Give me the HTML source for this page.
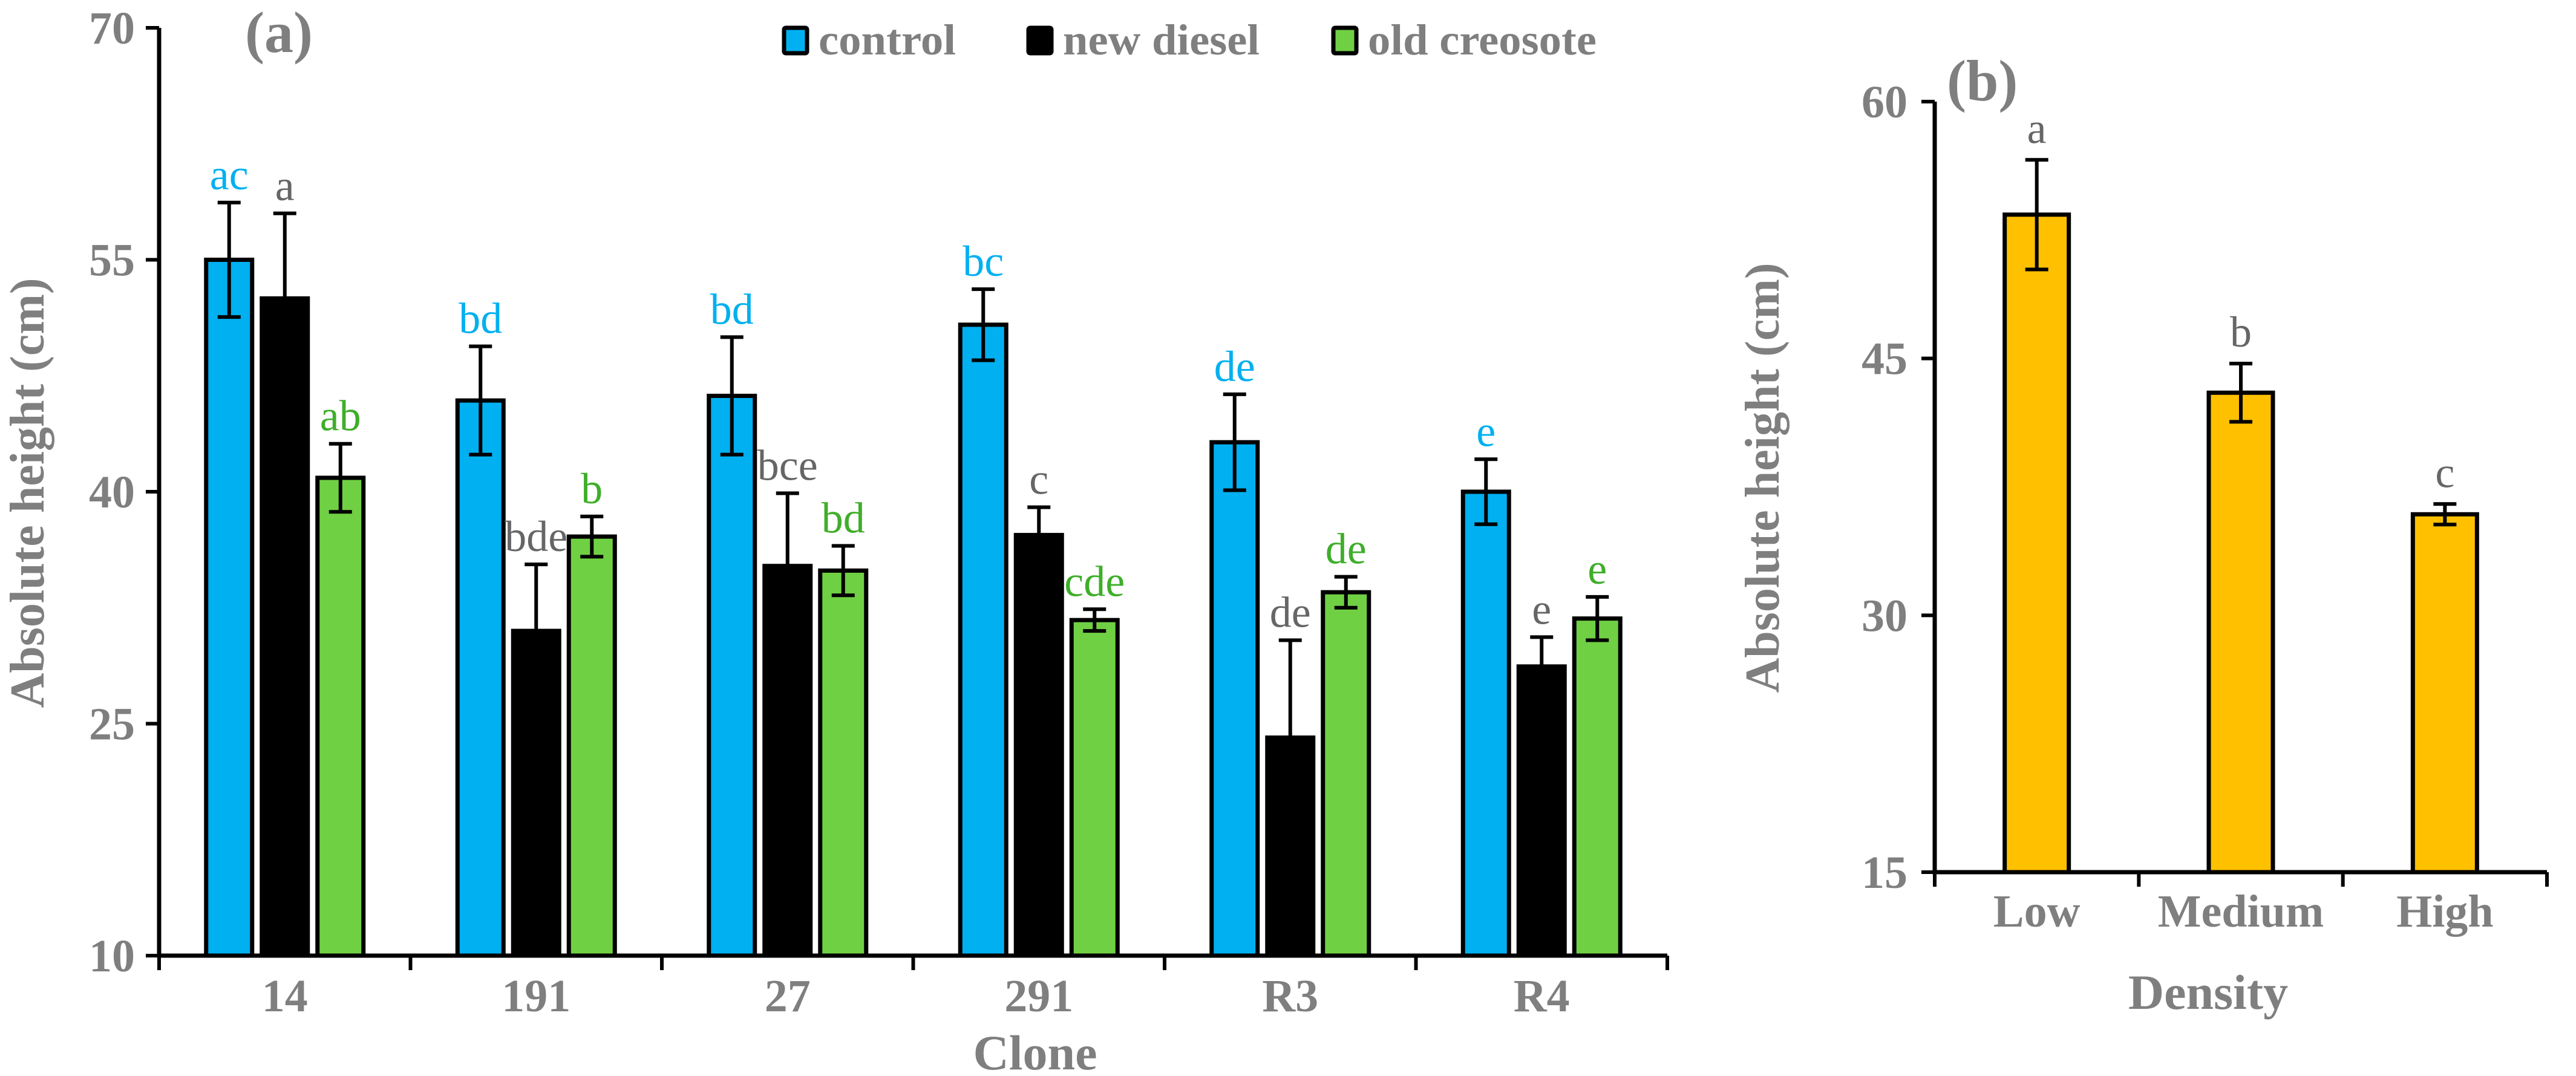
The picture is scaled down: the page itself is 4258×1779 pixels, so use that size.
<!DOCTYPE html>
<html><head><meta charset="utf-8"><style>
html,body{margin:0;padding:0;background:#fff;}
svg{display:block;}
text{font-family:"Liberation Serif",serif;}
</style></head><body>
<svg id="chart" width="4258" height="1779" viewBox="0 0 4258 1779" xmlns="http://www.w3.org/2000/svg"></svg>
<script>
const clones = ["14","191","27","291","R3","R4"];
const controlVals = [55.0, 45.9, 46.2, 50.8, 43.2, 40.0];
const controlErr = [3.7, 3.5, 3.8, 2.3, 3.1, 2.1];
const controlLetters = ["ac","bd","bd","bc","de","e"];
const dieselVals = [52.5, 31.0, 35.2, 37.2, 24.1, 28.7];
const dieselErr = [5.5, 4.3, 4.7, 1.8, 6.3, 1.9];
const dieselLetters = ["a","bde","bce","c","de","e"];
const creosoteVals = [40.9, 37.1, 34.9, 31.7, 33.5, 31.8];
const creosoteErr = [2.2, 1.3, 1.6, 0.7, 1.0, 1.4];
const creosoteLetters = ["ab","b","bd","cde","de","e"];
const leftTicks = [10, 25, 40, 55, 70];
const densities = ["Low","Medium","High"];
const densityVals = [53.4, 43.0, 35.9];
const densityErr = [3.2, 1.7, 0.6];
const densityLetters = ["a","b","c"];
const rightTicks = [15, 30, 45, 60];

const NS = "http://www.w3.org/2000/svg";
const svg = document.getElementById("chart");
function mk(tag, attrs, parent, txt){
  const e = document.createElementNS(NS, tag);
  for (const k in attrs) e.setAttribute(k, attrs[k]);
  if (txt !== undefined) e.textContent = txt;
  (parent || svg).appendChild(e);
  return e;
}
const GREY = "#7f7f7f";

// ---------- Left chart ----------
const L = {x0:263, x1:2756, yTop:46, yBot:1580, vmin:10, vmax:70};
const ly = v => L.yBot - (v - L.vmin) / (L.vmax - L.vmin) * (L.yBot - L.yTop);
const gw = (L.x1 - L.x0) / clones.length;
const gx = i => L.x0 + gw * (i + 0.5);

const gL = mk("g", {});



const series = [
  {name:"control", vals:controlVals, err:controlErr, letters:controlLetters, fill:"#00b0f0", lc:"#00b0f0", off:-92},
  {name:"new-diesel", vals:dieselVals, err:dieselErr, letters:dieselLetters, fill:"#000000", lc:"#666666", off:0},
  {name:"old-creosote", vals:creosoteVals, err:creosoteErr, letters:creosoteLetters, fill:"#70d044", lc:"#3fae2a", off:92}
];
const bw = 76;
series.forEach(s => {
  s.vals.forEach((v, i) => {
    const cx = gx(i) + s.off;
    const r = mk("rect", {x:cx - bw/2, y:ly(v), width:bw, height:L.yBot - ly(v), fill:s.fill, stroke:"#000", "stroke-width":7}, gL);
    
    
    const hi = ly(v + s.err[i]), lo = ly(v - s.err[i]);
    const eb = mk("path", {d:`M${cx} ${hi}V${lo}M${cx-19} ${hi}H${cx+19}M${cx-19} ${lo}H${cx+19}`, stroke:"#000", "stroke-width":6, fill:"none"}, gL);
    
    
    const t = mk("text", {x:cx, y:hi - 22, "text-anchor":"middle", "font-size":72, fill:s.lc}, gL, s.letters[i]);
    
    
  });
});
const axL = mk("path", {d:`M${L.x0} ${L.yTop}V${L.yBot}H${L.x1}`, stroke:"#000", "stroke-width":7, fill:"none"}, gL);


leftTicks.forEach(v => {
  const tk = mk("line", {x1:L.x0 - 22, x2:L.x0, y1:ly(v), y2:ly(v), stroke:"#000", "stroke-width":6}, gL);
  
  
  const tl = mk("text", {x:L.x0 - 40, y:ly(v) + 26, "text-anchor":"end", "font-size":76, "font-weight":"bold", fill:GREY}, gL, String(v));
  
  
});
for (let i = 0; i <= clones.length; i++) {
  const x = L.x0 + gw * i;
  const tk = mk("line", {x1:x, x2:x, y1:L.yBot, y2:L.yBot + 24, stroke:"#000", "stroke-width":6}, gL);
  
  
}
clones.forEach((c, i) => {
  const tl = mk("text", {x:gx(i), y:1672, "text-anchor":"middle", "font-size":76, "font-weight":"bold", fill:GREY}, gL, c);
  
  
});
const xtA = mk("text", {x:1711, y:1768, "text-anchor":"middle", "font-size":82, "font-weight":"bold", fill:GREY}, gL, "Clone");


const ytA = mk("text", {x:0, y:0, transform:"translate(72 815) rotate(-90)", "text-anchor":"middle", "font-size":80, "font-weight":"bold", fill:GREY}, gL, "Absolute height (cm)");


const pa = mk("text", {x:405, y:86, "font-size":96, "font-weight":"bold", fill:GREY}, gL, "(a)");


const legend = [
  {label:"control", fill:"#00b0f0", x:1296, tw:227},
  {label:"new diesel", fill:"#000000", x:1700, tw:325},
  {label:"old creosote", fill:"#70d044", x:2204, tw:378}
];
legend.forEach(l => {
  const g = mk("g", {}, gL);
  
  
  mk("rect", {x:l.x, y:46, width:38, height:42, fill:l.fill, stroke:"#000", "stroke-width":7, rx:3}, g);
  mk("text", {x:l.x + 57, y:90, "font-size":72, "font-weight":"bold", fill:GREY, textLength:l.tw, lengthAdjust:"spacingAndGlyphs"}, g, l.label);
});

// ---------- Right chart ----------
const R = {x0:3198, x1:4210, yTop:168, yBot:1442, vmin:15, vmax:60};
const ry = v => R.yBot - (v - R.vmin) / (R.vmax - R.vmin) * (R.yBot - R.yTop);
const rgw = (R.x1 - R.x0) / densities.length;
const rgx = i => R.x0 + rgw * (i + 0.5);
const gR = mk("g", {});


const rbw = 106;
densityVals.forEach((v, i) => {
  const cx = rgx(i);
  const r = mk("rect", {x:cx - rbw/2, y:ry(v), width:rbw, height:R.yBot - ry(v), fill:"#ffc000", stroke:"#000", "stroke-width":7}, gR);
  
  
  const hi = ry(v + densityErr[i]), lo = ry(v - densityErr[i]);
  const eb = mk("path", {d:`M${cx} ${hi}V${lo}M${cx-19} ${hi}H${cx+19}M${cx-19} ${lo}H${cx+19}`, stroke:"#000", "stroke-width":6, fill:"none"}, gR);
  
  
  const t = mk("text", {x:cx, y:hi - 28, "text-anchor":"middle", "font-size":72, fill:"#666666"}, gR, densityLetters[i]);
  
  
});
const axR = mk("path", {d:`M${R.x0} ${R.yTop}V${R.yBot}H${R.x1}`, stroke:"#000", "stroke-width":7, fill:"none"}, gR);


rightTicks.forEach(v => {
  const tk = mk("line", {x1:R.x0 - 22, x2:R.x0, y1:ry(v), y2:ry(v), stroke:"#000", "stroke-width":6}, gR);
  
  
  const tl = mk("text", {x:R.x0 - 45, y:ry(v) + 26, "text-anchor":"end", "font-size":76, "font-weight":"bold", fill:GREY}, gR, String(v));
  
  
});
for (let i = 0; i <= densities.length; i++) {
  const x = R.x0 + rgw * i;
  const tk = mk("line", {x1:x, x2:x, y1:R.yBot, y2:R.yBot + 24, stroke:"#000", "stroke-width":6}, gR);
  
  
}
densities.forEach((d, i) => {
  const tl = mk("text", {x:rgx(i), y:1532, "text-anchor":"middle", "font-size":76, "font-weight":"bold", fill:GREY}, gR, d);
  
  
});
const xtB = mk("text", {x:3650, y:1668, "text-anchor":"middle", "font-size":82, "font-weight":"bold", fill:GREY}, gR, "Density");


const ytB = mk("text", {x:0, y:0, transform:"translate(2940 790) rotate(-90)", "text-anchor":"middle", "font-size":80, "font-weight":"bold", fill:GREY}, gR, "Absolute height (cm)");


const pb = mk("text", {x:3218, y:166, "font-size":96, "font-weight":"bold", fill:GREY}, gR, "(b)");


</script>
</body></html>
